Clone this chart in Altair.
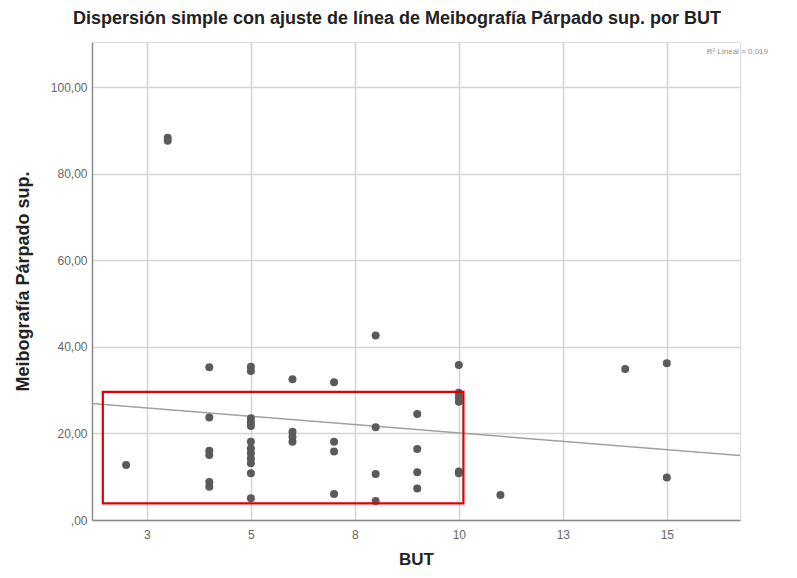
import altair as alt
import pandas as pd

# Data
but = [2,
       3, 3,
       4, 4, 4, 4, 4, 4,
       5, 5, 5, 5, 5, 5, 5, 5, 5, 5, 5, 5,
       6, 6, 6, 6,
       7, 7, 7, 7,
       8, 8, 8, 8,
       9, 9, 9, 9,
       10, 10, 10, 10, 10, 10,
       11,
       14,
       15, 15]
meib = [12.7,
        88.3, 87.6,
        35.3, 23.7, 16.0, 15.0, 8.8, 7.7,
        35.4, 34.4, 23.5, 22.5, 21.7, 18.1, 16.5, 15.4, 14.2, 13.1, 10.8, 5.0,
        32.5, 20.4, 19.2, 18.1,
        31.8, 18.1, 15.8, 6.0,
        42.6, 21.4, 10.6, 4.4,
        24.5, 16.4, 11.0, 7.3,
        35.8, 29.4, 28.3, 27.3, 11.2, 10.8,
        5.8,
        34.9,
        36.2, 9.8]

x_ticks = [2.5, 5, 7.5, 10, 12.5, 15]
y_ticks = [0, 20, 40, 60, 80, 100]
x_domain = [1.18, 16.76]
y_domain = [0, 110.4]

# highlight box (annotation in data units)
box_x = [1.44]
box_x2 = [10.11]
box_y = [3.86]
box_y2 = [29.6]

r2_label = ["R² Lineal = 0,019"]

df = pd.DataFrame({"BUT": but, "Meib": meib})
box_df = pd.DataFrame({"BUT": box_x, "bx2": box_x2, "Meib": box_y, "by2": box_y2})
r2_df = pd.DataFrame({"t": r2_label})

FONT = "Liberation Sans"

xs = alt.Scale(domain=x_domain, nice=False, zero=False)
ys = alt.Scale(domain=y_domain, nice=False, zero=False)

x_axis = alt.Axis(
    values=x_ticks,
    labelExpr="format(round(datum.value), 'd')",
    title="BUT",
    titleFont=FONT, titleFontSize=17, titleFontWeight="bold", titleColor="#222222",
    titlePadding=11,
    labelFont=FONT, labelFontSize=12, labelColor="#666666", labelPadding=9,
    grid=True, gridColor="#d4d4d4", gridWidth=1.5,
    domainColor="#8c8c8c", domainWidth=1.5,
    ticks=False,
)
y_axis = alt.Axis(
    values=y_ticks,
    labelExpr="datum.value == 0 ? ',00' : replace(format(datum.value, '.2f'), '.', ',')",
    title="Meibografía Párpado sup.",
    titleFont=FONT, titleFontSize=18, titleFontWeight="bold", titleColor="#222222",
    titlePadding=18,
    labelFont=FONT, labelFontSize=12, labelColor="#666666", labelPadding=5,
    grid=True, gridColor="#d4d4d4", gridWidth=1.5,
    domainColor="#8c8c8c", domainWidth=1.5,
    ticks=False,
)

fit = alt.Chart(df).transform_regression(
    "BUT", "Meib", extent=x_domain
).mark_line(color="#a0a0a0", strokeWidth=1.5).encode(
    x=alt.X("BUT:Q", scale=xs, axis=x_axis),
    y=alt.Y("Meib:Q", scale=ys, axis=y_axis),
)

points = alt.Chart(df).mark_circle(size=64, color="#5a5a5a", opacity=1).encode(
    x=alt.X("BUT:Q", scale=xs, axis=x_axis),
    y=alt.Y("Meib:Q", scale=ys, axis=y_axis),
)

box = alt.Chart(box_df).mark_rect(
    fillOpacity=0, stroke="#e00000", strokeWidth=2.2
).encode(
    x=alt.X("BUT:Q", scale=xs, axis=x_axis),
    x2="bx2:Q",
    y=alt.Y("Meib:Q", scale=ys, axis=y_axis),
    y2="by2:Q",
)

r2 = alt.Chart(r2_df).mark_text(
    align="right", baseline="middle", font=FONT, fontSize=8, color="#909090"
).encode(
    x=alt.value(676), y=alt.value(10), text="t:N"
)

chart = alt.layer(fit, points, box, r2).properties(
    width=648,
    height=478,
    autosize=alt.AutoSizeParams(type="none"),
    padding={"left": 84, "top": 34, "right": 49, "bottom": 50},
    title=alt.TitleParams(
        "Dispersión simple con ajuste de línea de Meibografía Párpado sup. por BUT",
        font=FONT, fontSize=18, fontWeight="bold", color="#222222",
        anchor="middle", dx=-19, offset=14,
    ),
).configure_view(strokeWidth=0, stroke="transparent").configure(background="white")

chart.save("out.html", embed_options={"renderer": "svg", "actions": False})
